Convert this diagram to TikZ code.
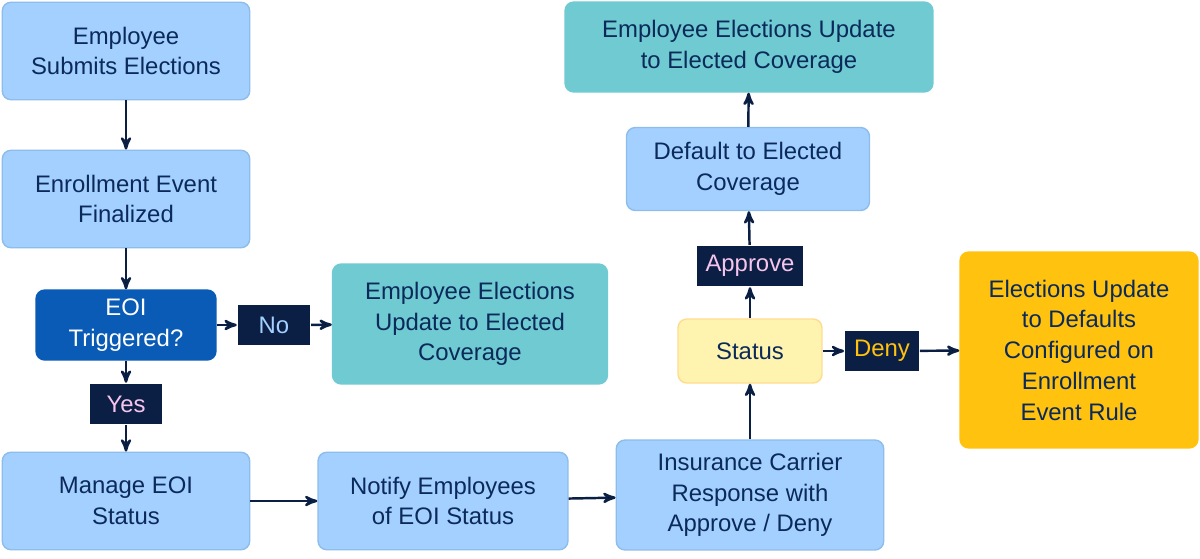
\documentclass[tikz,border=0pt]{standalone}
\usepackage{fontspec}
\setmainfont{Liberation Sans}
\usetikzlibrary{arrows,positioning}
\definecolor{lblue}{HTML}{A3D0FF}
\definecolor{lbord}{HTML}{8CBDEB}
\definecolor{teal}{HTML}{6FCAD1}
\definecolor{dblue}{HTML}{0A5BB5}
\definecolor{navy}{HTML}{0B1F45}
\definecolor{txt}{HTML}{0B2A5A}
\definecolor{lyel}{HTML}{FFF3B0}
\definecolor{orng}{HTML}{FFC20E}
\definecolor{pinkt}{HTML}{F7C4EC}
\begin{document}
\begin{tikzpicture}[x=0.02cm,y=-0.02cm,>=stealth',line width=1.4pt,
	every node/.style={font=\fontsize{13.6}{17.5}\selectfont,text=txt,align=center},
	step node/.style={rounded corners=5pt,fill=lblue,draw=lbord,thick,minimum height=#1},
	label node/.style={fill=navy,inner sep=5pt,minimum height=0.8cm}]
	\useasboundingbox (0,0) rectangle (1200,558);
	
	\node[step node=1.95cm,minimum width=4.95cm] (submit) at (126,51) {Employee\\Submits Elections};
	\node[step node=1.95cm,minimum width=4.95cm] (final) at (126,199) {Enrollment Event\\Finalized};
	\node[step node=1.4cm,minimum width=3.6cm,fill=dblue,draw=dblue,text=white] (eoi) at (126,325) {EOI\\Triggered?};
	\node[step node=2.4cm,minimum width=5.5cm,fill=teal,draw=teal] (upd) at (470,324) {Employee Elections\\Update to Elected\\Coverage};
	\node[step node=1.95cm,minimum width=4.95cm] (manage) at (126,501) {Manage EOI\\Status};
	\node[step node=1.95cm,minimum width=5cm] (notify) at (443,501) {Notify Employees\\of EOI Status};
	\node[step node=2.2cm,minimum width=5.35cm] (carrier) at (750,495) {Insurance Carrier\\Response with\\Approve / Deny};
	\node[step node=1.28cm,minimum width=2.88cm,fill=lyel,draw=lyel!80!orange] (status) at (750,351) {Status};
	\node[step node=1.66cm,minimum width=4.86cm] (default) at (748,169) {Default to Elected\\Coverage};
	\node[step node=1.8cm,minimum width=7.36cm,fill=teal,draw=teal] (top) at (749,47) {Employee Elections Update\\to Elected Coverage};
	\node[step node=3.92cm,minimum width=4.76cm,fill=orng,draw=orng] (deflt) at (1079,350) {Elections Update\\to Defaults\\Configured on\\Enrollment\\Event Rule};
	
	\node[label node,text=lblue,minimum width=1.44cm] (no) at (274,325) {No};
	\node[label node,text=pinkt,minimum width=1.44cm] (yes) at (126,404) {Yes};
	\node[label node,text=pinkt] (appr) at (750,266) {Approve};
	\node[label node,text=orng] (deny) at (882,351) {Deny};
	
	\path[draw=navy,->]
	(submit) edge (final)
	(final) edge (eoi)
	(eoi) edge (no)
	(no) edge (upd)
	(eoi) edge (yes)
	(yes) edge (manage)
	(manage) edge (notify)
	(notify) edge (carrier)
	(carrier) edge (status)
	(status) edge (appr)
	(appr) edge (default)
	(default) edge (top)
	(status) edge (deny)
	(deny) edge (deflt);
\end{tikzpicture}
\end{document}
